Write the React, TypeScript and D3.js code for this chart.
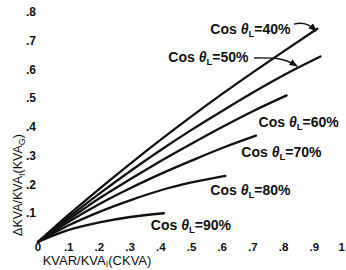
import * as d3 from 'd3'

const xTicks = [0, 0.1, 0.2, 0.3, 0.4, 0.5, 0.6, 0.7, 0.8, 0.9, 1]
const xTickLabels = ['0', '.1', '.2', '.3', '.4', '.5', '.6', '.7', '.8', '.9', '1']
const yTicks = [0.1, 0.2, 0.3, 0.4, 0.5, 0.6, 0.7, 0.8]
const yTickLabels = ['.1', '.2', '.3', '.4', '.5', '.6', '.7', '.8']

const pfLabels = ['40', '50', '60', '70', '80', '90']
const curveX = [
  [0, 0.1, 0.2, 0.3, 0.4, 0.5, 0.6, 0.7, 0.8, 0.91],
  [0, 0.1, 0.2, 0.3, 0.4, 0.5, 0.6, 0.7, 0.8, 0.92],
  [0, 0.1, 0.2, 0.3, 0.4, 0.5, 0.6, 0.7, 0.81],
  [0, 0.1, 0.2, 0.3, 0.4, 0.5, 0.6, 0.71],
  [0, 0.1, 0.2, 0.3, 0.4, 0.5, 0.61],
  [0, 0.1, 0.2, 0.3, 0.41],
]
const curveY = [
  [0, 0.095, 0.185, 0.272, 0.356, 0.437, 0.515, 0.59, 0.663, 0.742],
  [0, 0.086, 0.168, 0.246, 0.32, 0.39, 0.456, 0.52, 0.58, 0.645],
  [0, 0.078, 0.152, 0.218, 0.282, 0.342, 0.4, 0.455, 0.51],
  [0, 0.07, 0.132, 0.187, 0.237, 0.283, 0.327, 0.37],
  [0, 0.058, 0.105, 0.145, 0.18, 0.207, 0.23],
  [0, 0.042, 0.068, 0.087, 0.1],
]
// label centre (data coords) for each curve name
const labelX = [0.692, 0.555, 0.849, 0.793, 0.692, 0.498]
const labelY = [0.741, 0.643, 0.417, 0.313, 0.181, 0.059]

const font = '"Liberation Sans", Arial, sans-serif'

export default function App() {
  const width = 346
  const height = 270
  const x = d3.scaleLinear().domain([0, 1]).range([38, 345])
  const y = d3.scaleLinear().domain([0, 0.8]).range([242, 12])

  const line = d3
    .line<[number, number]>()
    .x((d) => x(d[0]))
    .y((d) => y(d[1]))
    .curve(d3.curveMonotoneX)

  const arrow40 = `M${x(0.834)},${y(0.758)} C${x(0.87)},${y(0.768)} ${x(0.89)},${y(0.75)} ${x(0.906)},${y(0.734)}`
  const arrow50 = `M${x(0.704)},${y(0.64)} C${x(0.77)},${y(0.642)} ${x(0.8)},${y(0.64)} ${x(0.844)},${y(0.612)}`

  return (
    <svg
      width={width}
      height={height}
      style={{ position: 'absolute', left: 0, top: 0, background: '#fff' }}
      fontFamily={font}
    >
      <defs>
        <marker id="ah" viewBox="0 0 10 10" refX="9" refY="5" markerWidth="6" markerHeight="6" orient="auto">
          <path d="M0,1 L10,5 L0,9 Z" fill="#111" />
        </marker>
      </defs>

      {yTicks.map((t, i) => (
        <text key={t} x={36} y={y(t)} dy="0.35em" textAnchor="end" fontSize={12} fontWeight="bold" fill="#111">
          {yTickLabels[i]}
        </text>
      ))}
      {xTicks.map((t, i) => (
        <text
          key={t}
          x={x(t)}
          y={251}
          textAnchor={i === xTicks.length - 1 ? 'end' : 'middle'}
          fontSize={11.5}
          fontWeight="bold"
          fill="#111"
        >
          {xTickLabels[i]}
        </text>
      ))}

      <text x={97} y={265} textAnchor="middle" fontSize={13} fill="#111">
        KVAR/KVA<tspan fontSize={9} dy={2}>I</tspan>
        <tspan dy={-2}>(CKVA)</tspan>
      </text>
      <text transform="translate(22,185) rotate(-90)" textAnchor="middle" fontSize={12.5} fill="#111">
        ΔKVA/KVA<tspan fontSize={9} dy={3}>I</tspan>
        <tspan dy={-3}>(KVA</tspan>
        <tspan fontSize={9} dy={3}>G</tspan>
        <tspan dy={-3}>)</tspan>
      </text>

      {curveX.map((xs, i) => (
        <path
          key={pfLabels[i]}
          d={line(xs.map((v, j) => [v, curveY[i][j]] as [number, number])) ?? ''}
          fill="none"
          stroke="#111"
          strokeWidth={2.3}
          strokeLinecap="round"
        />
      ))}

      <path d={arrow40} fill="none" stroke="#111" strokeWidth={1.4} markerEnd="url(#ah)" />
      <path d={arrow50} fill="none" stroke="#111" strokeWidth={1.4} markerEnd="url(#ah)" />

      {pfLabels.map((p, i) => (
        <text key={p} x={x(labelX[i])} y={y(labelY[i])} dy="0.35em" textAnchor="middle" fontSize={14} fill="#111" fontWeight="bold">
          Cos <tspan fontStyle="italic">θ</tspan>
          <tspan fontSize={9.5} dy={3}>L</tspan>
          <tspan dy={-3}>={p}%</tspan>
        </text>
      ))}
    </svg>
  )
}
